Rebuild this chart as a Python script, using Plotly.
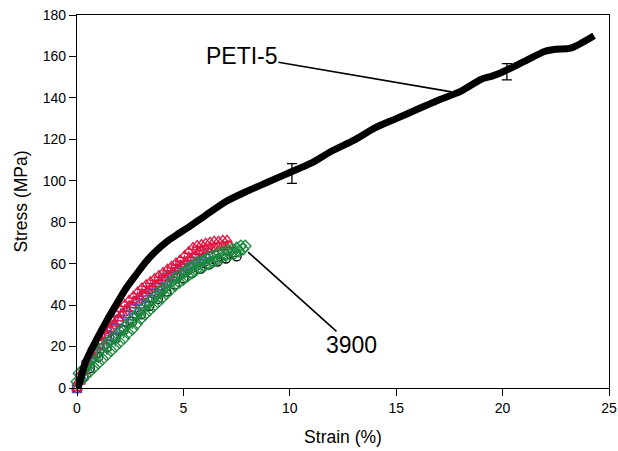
import plotly.graph_objects as go

# PETI-5 average curve
peti_strain = [0, 0.1, 0.4, 0.9, 1.4, 1.8, 2.3, 2.8, 3.2, 3.7, 4.2, 4.7, 5.3, 6.0, 7.0, 8.0, 9.0, 10.0,
               11.0, 12.0, 13.0, 14.0, 15.0, 16.0, 17.0, 18.0, 19.0, 19.5, 20.0, 21.0, 22.0, 22.5, 23.2, 24.3]
peti_stress = [0, 2, 12.5, 23, 32.5, 39.5, 48, 55, 60.5, 66, 70.5, 74, 78, 83, 90, 95, 99.5, 104,
               108.5, 114.5, 119.5, 125.5, 130, 134.5, 139, 143, 149, 150.5, 152.5, 157.5, 162.5, 163.5, 164, 170]

# error bars on PETI-5
err_strain = [10.1, 20.2]
err_stress = [103.5, 152.6]
err_size = [4.8, 3.9]

# 3900 specimens
red_strain = [0, 0.05, 0.15, 0.25, 0.35, 0.45, 0.55, 0.65, 0.75, 0.85, 0.95, 1.05, 1.15, 1.25, 1.35, 1.45,
              1.55, 1.65, 1.75, 1.85, 1.95, 2.05, 2.15, 2.25, 2.35, 2.45, 2.55, 2.65, 2.75, 2.85, 2.95,
              3.05, 3.15, 3.25, 3.35, 3.45, 3.55, 3.65, 3.75, 3.85, 3.95, 4.05, 4.15, 4.25, 4.35, 4.45,
              4.55, 4.65, 4.75, 4.85, 4.95, 5.05, 5.15, 5.25, 5.35, 5.45, 5.55, 5.65, 5.75, 5.85, 5.95,
              6.05, 6.15, 6.25, 6.35, 6.45, 6.55, 6.65, 6.75, 6.85, 6.95, 7.05, 7.15]
red_stress = [0, 3, 3, 8, 8, 13, 12, 17, 16, 21, 19.5, 24.5, 22.5, 27.5, 25.5, 30.5,
              28.5, 33, 31, 35.5, 33.5, 38, 36, 40.5, 38, 42.5, 40, 44.5, 42, 46.5, 44,
              48.5, 45.5, 50, 47, 51.5, 48.5, 53, 50, 54.5, 51.5, 56, 53, 57.5, 54.5, 59,
              56, 60.5, 57.5, 62, 59.5, 64, 61, 66, 62.5, 68, 64, 69, 65.5, 69.5, 66,
              70, 66.5, 70.5, 67, 71, 67.5, 71, 67.5, 71.5, 68, 71.5, 69]

blue_strain = [0, 0.15, 0.3, 0.45, 0.6, 0.75, 0.9, 1.05, 1.2, 1.35, 1.5, 1.65, 1.8, 1.95, 2.1, 2.25, 2.4,
               2.55, 2.7, 2.85, 3.0, 3.15, 3.3, 3.45, 3.6, 3.75, 3.9, 4.05, 4.2, 4.35, 4.5, 4.65, 4.8,
               4.95, 5.1, 5.25, 5.4, 5.55, 5.7, 5.85, 6.0, 6.15]
blue_stress = [0, 4.5, 6, 11, 12, 17, 17, 21.5, 21, 25.5, 25, 29, 28.5, 33, 32, 36, 35,
               39, 38, 42, 41, 44.5, 43.5, 47, 46, 49.5, 48.5, 52, 51, 54.5, 53.5, 57, 55.5,
               59, 57.5, 61, 59.5, 62.5, 61, 64, 62.5, 65]

circ_strain = [0, 0.3, 0.6, 1.0, 1.4, 1.8, 2.2, 2.6, 3.0, 3.4, 3.8, 4.2, 4.6, 5.0, 5.4, 5.8, 6.2, 6.6, 7.0, 7.5]
circ_stress = [0, 5, 9.5, 15, 19.5, 24, 28, 32, 35.5, 39.5, 43, 46.5, 50, 53, 55.5, 57.5, 59.5, 61, 62.5, 63.5]

green_strain = [0.0, 0.1, 0.2, 0.3, 0.4, 0.5, 0.6, 0.7, 0.8, 0.9, 1.0, 1.1, 1.2, 1.3, 1.4, 1.5, 1.6, 1.7,
                1.8, 1.9, 2.0, 2.1, 2.2, 2.3, 2.4, 2.5, 2.6, 2.7, 2.8, 2.9, 3.0, 3.1, 3.2, 3.3, 3.4, 3.5,
                3.6, 3.7, 3.8, 3.9, 4.0, 4.1, 4.2, 4.3, 4.4, 4.5, 4.6, 4.7, 4.8, 4.9, 5.0, 5.1, 5.2, 5.3,
                5.4, 5.5, 5.6, 5.7, 5.8, 5.9, 6.0, 6.1, 6.2, 6.3, 6.4, 6.5, 6.6, 6.7, 6.8, 6.9, 7.0, 7.1,
                7.2, 7.3, 7.4, 7.5, 7.6, 7.7, 7.8, 7.9]
green_stress = [3, 7, 4, 9, 6, 11.5, 8, 14, 10, 16.5, 12, 18.5, 14, 20.5, 16, 22.5, 18, 24,
                20, 26, 22, 28, 24, 30, 26.5, 32, 28.5, 34, 31, 36.5, 33.5, 38.5, 35.5, 40.5, 37.5, 42.5,
                39.5, 44.5, 41.5, 46.5, 43.5, 48, 45.5, 50, 47.5, 52, 49.5, 53.5, 51, 55, 52.5, 56.5, 54, 58,
                55.5, 59.5, 57, 60.5, 58, 61.5, 59, 62.5, 60, 63.5, 61, 64, 62, 65, 63, 65.5, 64, 66.5,
                64.5, 67, 65, 67.5, 66, 68.5, 67, 68.5]

x_ticks = [0, 5, 10, 15, 20, 25]
y_ticks = [0, 20, 40, 60, 80, 100, 120, 140, 160, 180]

label_peti = "PETI-5"
label_peti_pos = (7.75, 160.2)
label_peti_tip = (17.6, 142.9)
label_3900 = "3900"
label_3900_pos = (12.9, 20.8)
label_3900_tip = (8.04, 65.6)

FONT = "Liberation Sans, Arial, sans-serif"

fig = go.Figure()

def spec(xs, ys, color, symbol):
    fig.add_trace(go.Scatter(
        x=xs, y=ys, mode="lines+markers", cliponaxis=False,
        line=dict(color=color, width=1),
        marker=dict(symbol=symbol, size=9, color=color, line=dict(color=color, width=1.3)),
        showlegend=False))

spec(circ_strain, circ_stress, "black", "circle-open")
spec(blue_strain, blue_stress, "#5a4fb5", "square-open")
spec(red_strain, red_stress, "#e3143f", "triangle-up-open")
spec(green_strain, green_stress, "#1b8a3e", "diamond-open")

fig.add_trace(go.Scatter(
    x=peti_strain, y=peti_stress, mode="lines", cliponaxis=False,
    line=dict(color="black", width=7, shape="spline", smoothing=0.7), showlegend=False))

fig.add_trace(go.Scatter(
    x=err_strain, y=err_stress, mode="markers",
    marker=dict(size=1, color="black"),
    error_y=dict(type="data", array=err_size, visible=True, color="black", thickness=1.3, width=5),
    showlegend=False))

for text, pos, tip in [(label_peti, label_peti_pos, label_peti_tip), (label_3900, label_3900_pos, label_3900_tip)]:
    fig.add_annotation(
        x=tip[0], y=tip[1], ax=pos[0], ay=pos[1], axref="x", ayref="y", xref="x", yref="y",
        text=text, showarrow=True, arrowhead=0, arrowwidth=1.6, arrowcolor="black",
        font=dict(family=FONT, size=23, color="black"), borderpad=0)

axis_common = dict(
    showgrid=False, zeroline=False, showline=True, linecolor="black", linewidth=1.2,
    mirror=True, ticks="outside", ticklen=7, tickwidth=1.2, tickcolor="black", automargin=False,
    tickfont=dict(family=FONT, size=14, color="black"))

fig.update_xaxes(range=[0, 25], tickvals=x_ticks,
                 title=dict(text="Strain (%)", font=dict(family=FONT, size=17.5, color="black"), standoff=15),
                 **axis_common)
fig.update_yaxes(range=[0, 180], tickvals=y_ticks,
                 title=dict(text="Stress (MPa)", font=dict(family=FONT, size=17.5, color="black"), standoff=10),
                 **axis_common)

fig.update_layout(
    width=618, height=451,
    margin=dict(l=77, r=9, t=15, b=63),
    paper_bgcolor="white", plot_bgcolor="white",
    font=dict(family=FONT, color="black"))

fig.write_html("out.html")
